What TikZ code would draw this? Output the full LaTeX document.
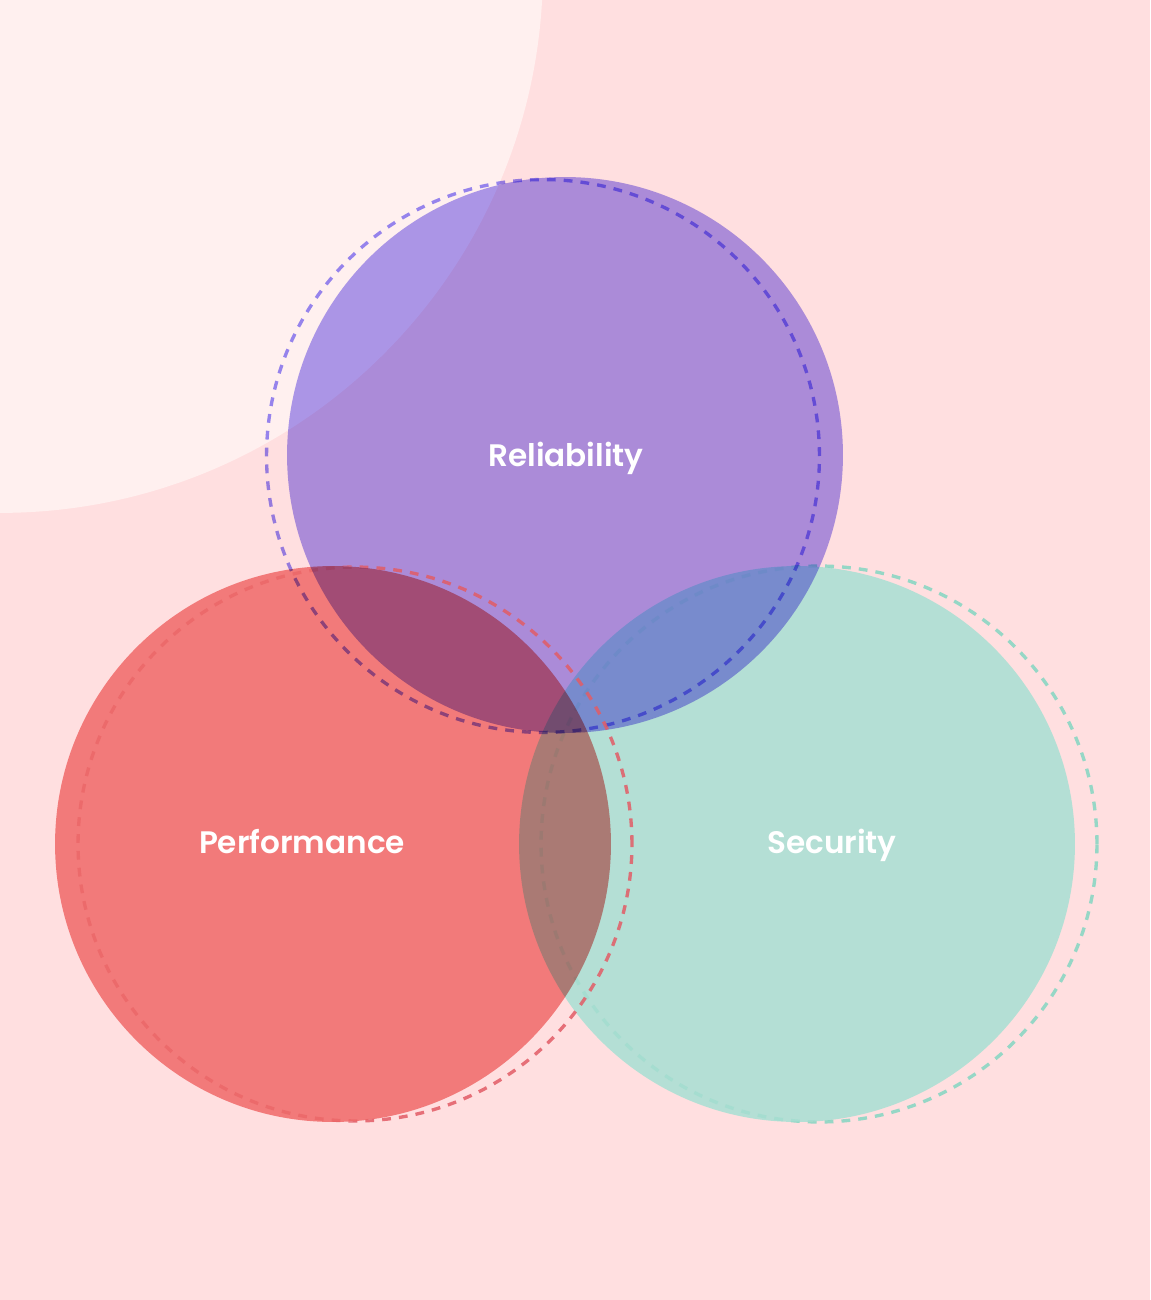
\documentclass[tikz,border=0pt]{standalone}
\usepackage{fontspec}
\setmainfont{Poppins}[BoldFont={* SemiBold}]
\usepackage{tikz}

\definecolor{bgpink}{RGB}{255,223,224}
\definecolor{bglight}{RGB}{255,240,239}
\definecolor{relfill}{RGB}{171,159,246}
\definecolor{perffill}{RGB}{242,140,139}
\definecolor{secfill}{RGB}{180,255,243}
\definecolor{reldash}{RGB}{150,140,252}
\definecolor{perfdash}{RGB}{226,92,102}
\definecolor{secdash}{RGB}{150,246,226}

\begin{document}
\begin{tikzpicture}[x=0.02cm, y=-0.02cm,
  disc/.style={blend mode=multiply},
  ring/.style={blend mode=multiply, line width=1.9pt, dash pattern=on 5pt off 4.6pt},
  hidden/.style={draw opacity=0.2},
  setlabel/.style={text=white, anchor=base, font=\fontsize{17.7}{20}\selectfont\bfseries}]
\useasboundingbox (0,0) rectangle (1150,1300);
\fill[bgpink] (0,0) rectangle (1150,1300);
\begin{scope}
  \clip (0,0) rectangle (1150,1300);
  \fill[bglight] (0,-30) circle [radius=10.86cm];
\end{scope}
\coordinate (rel) at (565,455);
\coordinate (perf) at (333,844);
\coordinate (sec) at (797,844);
\coordinate (reldc) at (543,456);
\coordinate (perfdc) at (355,844);
\coordinate (secdc) at (819,844);
\fill[disc, relfill] (rel) circle [radius=5.56cm];
\fill[disc, perffill] (perf) circle [radius=5.56cm];
\fill[disc, secfill] (sec) circle [radius=5.56cm];
% dashed rings; red and teal fade inside their own disc
\draw[ring, reldash] (reldc) circle [radius=5.53cm];
\begin{scope}[even odd rule]
  \clip (-50,-50) rectangle (1200,1350) (sec) circle [radius=5.56cm];
  \draw[ring, secdash] (secdc) circle [radius=5.56cm];
\end{scope}
\begin{scope}
  \clip (sec) circle [radius=5.56cm];
  \draw[ring, hidden, secdash] (secdc) circle [radius=5.56cm];
\end{scope}
\begin{scope}[even odd rule]
  \clip (-50,-50) rectangle (1200,1350) (perf) circle [radius=5.56cm];
  \draw[ring, blend mode=normal, draw opacity=0.85, perfdash] (perfdc) circle [radius=5.54cm];
\end{scope}
\begin{scope}
  \clip (perf) circle [radius=5.56cm];
  \draw[ring, hidden, perfdash] (perfdc) circle [radius=5.54cm];
\end{scope}
\node[setlabel] (rellabel) at (566,466) {Reliability};
\node[setlabel] (perflabel) at (302,853) {Performance};
\node[setlabel] (seclabel) at (832,853) {Security};
\end{tikzpicture}
\end{document}
